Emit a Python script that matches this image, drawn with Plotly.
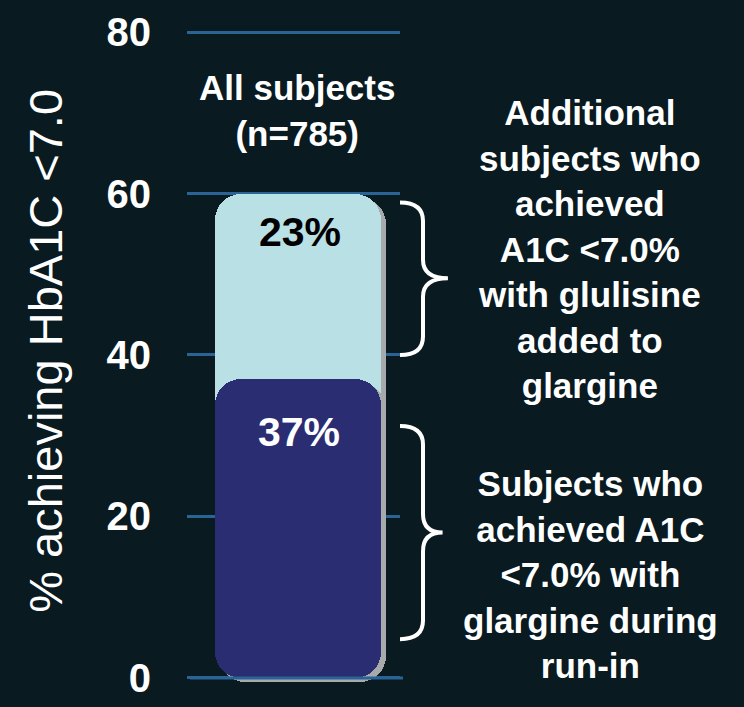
import plotly.graph_objects as go

# ---- data ----
group_label = "All subjects<br>(n=785)"
runin_pct = 37          # glargine during run-in
added_pct = 23          # additional with glulisine
y_ticks = [0, 20, 40, 60, 80]
y_tick_labels = ["0", "20", "40", "60", "80"]
y_title = "% achieving HbA1C <7.0"
top_note = "Additional<br>subjects who<br>achieved<br>A1C <7.0%<br>with glulisine<br>added to<br>glargine"
bottom_note = "Subjects who<br>achieved A1C<br><7.0% with<br>glargine during<br>run-in"

total_pct = runin_pct + added_pct

BG = "#091a20"
LIGHT = "#b9e0e4"
DARK = "#2a2d72"
SHADOW = "#a7a9aa"
GRID = "#2a6396"
FONT = "Arial, Liberation Sans, sans-serif"

xc = 0.52
w = 0.78
sh_dx = 0.022
sh_dy = 0.5
cr = 26

fig = go.Figure()

def bar(base, val, color, dx=0.0):
    fig.add_trace(go.Bar(
        x=[xc + dx], y=[val], base=[base], width=[w],
        marker=dict(color=color, line=dict(width=0), cornerradius=cr),
        hoverinfo="skip", showlegend=False,
    ))

# light (total) bar with shadow
bar(-sh_dy, total_pct, SHADOW, sh_dx)
bar(0, total_pct, LIGHT)
# dark (run-in) bar, built as two halves so both ends are rounded
lo = runin_pct * 0.4
hi = runin_pct * 0.6
bar(lo - sh_dy, runin_pct - lo, SHADOW, sh_dx)
bar(hi - sh_dy, -hi, SHADOW, sh_dx)
bar(lo, runin_pct - lo, DARK)
bar(hi, -hi, DARK)

# zero line above bars
fig.add_shape(type="line", xref="paper", yref="y", x0=0.014, x1=1.014, y0=0, y1=0,
              line=dict(color=GRID, width=3), layer="above")

# braces
def brace_path(x0, xm, xt, ytop, ymid, ybot, r):
    return (f"M {x0},{ytop} Q {xm},{ytop} {xm},{ytop - r} "
            f"L {xm},{ymid + r} Q {xm},{ymid} {xt},{ymid} "
            f"Q {xm},{ymid} {xm},{ymid - r} "
            f"L {xm},{ybot + r} Q {xm},{ybot} {x0},{ybot}")

fig.add_shape(type="path", xref="paper", yref="y",
              path=brace_path(1.0, 1.108, 1.225, 58.9, 49.5, 40.0, 2.3),
              line=dict(color="white", width=4), layer="above")
fig.add_shape(type="path", xref="paper", yref="y",
              path=brace_path(1.0, 1.108, 1.2, 31.2, 18.0, 4.8, 2.3),
              line=dict(color="white", width=4), layer="above")

# annotations
ann = [
    dict(x=0.516, y=70.3, text=f"<b>{group_label}</b>", font=dict(size=35, color="white")),
    dict(x=0.53, y=55.2, text=f"<b>{added_pct}%</b>", font=dict(size=41, color="black")),
    dict(x=0.525, y=30.5, text=f"<b>{runin_pct}%</b>", font=dict(size=41, color="white")),
    dict(x=1.892, y=53.1, text=f"<b>{top_note}</b>", font=dict(size=35, color="white")),
    dict(x=1.895, y=12.75, text=f"<b>{bottom_note}</b>", font=dict(size=35, color="white")),
]
for a in ann:
    fig.add_annotation(xref="paper", yref="y", xanchor="center", yanchor="middle",
                       showarrow=False, align="center", **{k: v for k, v in a.items()})
    fig.layout.annotations[-1].font.family = FONT

fig.add_annotation(xref="paper", yref="paper", x=-0.665, y=0.51, text=y_title,
                   textangle=-90, showarrow=False, xanchor="center", yanchor="middle",
                   font=dict(size=47, color="white", family=FONT))

fig.update_layout(
    width=744, height=707,
    margin=dict(l=187, r=344, t=28, b=21, autoexpand=False),
    paper_bgcolor=BG, plot_bgcolor=BG,
    barmode="overlay", bargap=0,
    font=dict(family=FONT, color="white"),
    xaxis=dict(range=[0, 1], showgrid=False, zeroline=False, showticklabels=False,
               showline=False, fixedrange=True, automargin=False),
    yaxis=dict(range=[-1, 80.5], tickvals=y_ticks, ticktext=[f"<b>{t}</b>" for t in y_tick_labels],
               showgrid=True, gridcolor=GRID, gridwidth=3, zeroline=False, showline=False,
               ticks="", ticklabelstandoff=35, automargin=False,
               tickfont=dict(size=40, color="white", family=FONT)),
)

fig.write_html("out.html")
